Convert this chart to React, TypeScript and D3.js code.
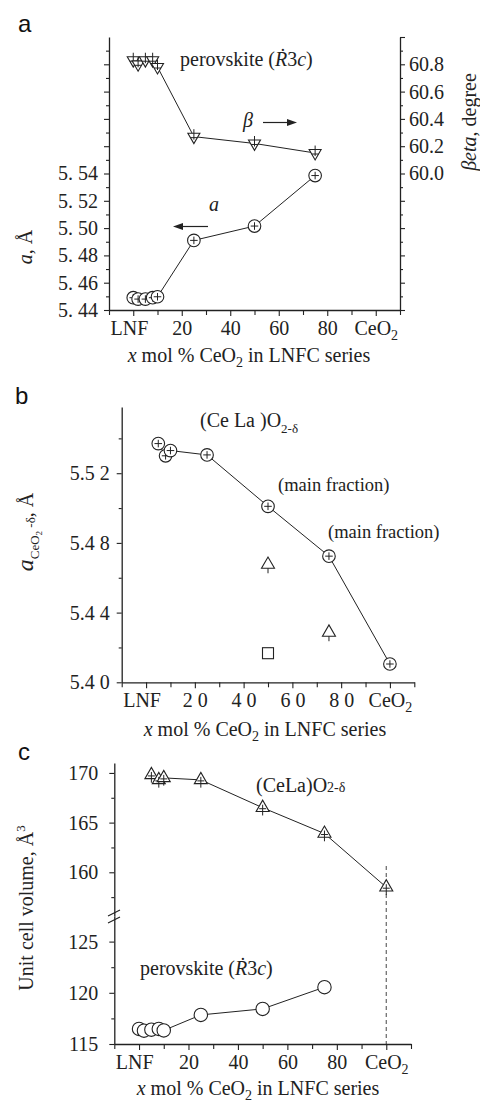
import React, { useEffect, useRef } from 'react'
import * as d3 from 'd3'

// perovskite (R3c) phase
const perovX = [0, 2, 5, 8, 10, 25, 50, 75]
const perovA = [5.449, 5.448, 5.448, 5.449, 5.4497, 5.491, 5.5015, 5.5385]
const perovBeta = [60.83, 60.8, 60.83, 60.83, 60.78, 60.27, 60.22, 60.15]
const perovVolume = [116.47, 116.3, 116.4, 116.47, 116.33, 117.84, 118.43, 120.55]

// (CeLa)O2-d phase
const celaX = [5, 8, 10, 25, 50, 75, 100]
const celaA = [5.537, 5.53, 5.533, 5.5305, 5.501, 5.4724, 5.4105]
const celaVolume = [169.8, 169.3, 169.5, 169.3, 166.5, 163.9, 158.5]
const secondX = [50, 75]
const secondA = [5.4676, 5.4286]
const squareX = [50]
const squareA = [5.4167]

// ticks
const xMajor = [0, 20, 40, 60, 80, 100]
const xMinor = [-10, 10, 30, 50, 70, 90, 110]
const xLabels = ['LNF', '20', '40', '60', '80', 'CeO']
const xLabelsB = ['LNF', '2 0', '4 0', '6 0', '8 0', 'CeO']
const aMajor = [5.44, 5.46, 5.48, 5.5, 5.52, 5.54, 5.56, 5.58, 5.6, 5.62]
const aMinor = [5.45, 5.47, 5.49, 5.51, 5.53, 5.55, 5.57, 5.59, 5.61, 5.63]
const aLabels = ['5. 44', '5. 46', '5. 48', '5. 50', '5. 52', '5. 54']
const betaMajor = [59.0, 59.2, 59.4, 59.6, 59.8, 60.0, 60.2, 60.4, 60.6, 60.8, 61.0]
const betaMinor = [59.1, 59.3, 59.5, 59.7, 59.9, 60.1, 60.3, 60.5, 60.7, 60.9]
const betaLabels = ['60.0', '60.2', '60.4', '60.6', '60.8']
const bMajor = [5.4, 5.44, 5.48, 5.52]
const bMinor = [5.42, 5.46, 5.5, 5.54]
const bLabels = ['5.4 0', '5.4 4', '5.4 8', '5.5 2']
const volUpMajor = [160, 165, 170]
const volUpMinor = [157.5, 162.5, 167.5]
const volLowMajor = [115, 120, 125]
const volLowMinor = [117.5, 122.5]

const SERIF = '"Liberation Serif", "Times New Roman", serif'
const SANS = '"Liberation Sans", Arial, sans-serif'
const INK = '#222'

type Sel = d3.Selection<any, unknown, null, undefined>

function drawAxis(parent: Sel, axis: d3.Axis<number>, transform: string, minor = false) {
  const g = parent.append('g').attr('transform', transform).call(axis as any)
  g.attr('font-family', SERIF).attr('font-size', 20)
  g.select('.domain').attr('stroke', INK).attr('stroke-width', 1.3)
  g.selectAll('.tick line').attr('stroke', INK).attr('stroke-width', 1.1)
  g.selectAll('.tick text').attr('fill', INK)
  if (minor) g.select('.domain').remove()
  return g
}

function xAxis(parent: Sel, x: d3.ScaleLinear<number, number>, y0: number, labels: string[]) {
  const g = drawAxis(
    parent,
    d3.axisBottom<number>(x).tickValues(xMajor).tickSize(6).tickSizeOuter(0).tickPadding(5)
      .tickFormat((_, i) => labels[i]),
    `translate(0,${y0})`
  )
  g.selectAll<SVGTextElement, number>('.tick text').each(function (d) {
    const t = d3.select(this)
    if (d === 0) t.attr('text-anchor', 'start').attr('x', x(-10) - x(0) + 1)
    if (d === 100) t.append('tspan').attr('font-size', 14).attr('dy', 5).text('2')
  })
  drawAxis(parent, d3.axisBottom<number>(x).tickValues(xMinor).tickSize(5).tickFormat(() => ''),
    `translate(0,${y0})`, true)
}

function xTitle(parent: Sel, cx: number, y: number) {
  const t = parent.append('text').attr('x', cx).attr('y', y).attr('text-anchor', 'middle')
    .attr('font-size', 20).attr('fill', INK)
  t.append('tspan').attr('font-style', 'italic').text('x')
  t.append('tspan').text(' mol % CeO')
  t.append('tspan').attr('font-size', 14).attr('dy', 5).text('2')
  t.append('tspan').attr('dy', -5).text(' in LNFC series')
}

function circlePlus(g: Sel, cx: number, cy: number, r: number, plus = true) {
  g.append('circle').attr('cx', cx).attr('cy', cy).attr('r', r)
    .attr('fill', '#fff').attr('stroke', INK).attr('stroke-width', 1.1)
  if (plus) {
    const k = r * 0.6
    g.append('path').attr('d', `M${cx - k},${cy}H${cx + k}M${cx},${cy - k}V${cy + k}`)
      .attr('stroke', INK).attr('stroke-width', 1)
  }
}

function triangle(g: Sel, cx: number, cy: number, s: number, down: boolean, mark: 'plus' | 'tick') {
  const h = s * 0.866
  const dir = down ? -1 : 1
  const baseY = cy + dir * h / 3
  const apexY = cy - dir * (2 * h) / 3
  g.append('path')
    .attr('d', `M${cx - s / 2},${baseY}L${cx + s / 2},${baseY}L${cx},${apexY}Z`)
    .attr('fill', '#fff').attr('stroke', INK).attr('stroke-width', 1.1)
  if (mark === 'plus') {
    g.append('path')
      .attr('d', `M${cx - 3.5},${cy + 1}H${cx + 3.5}M${cx},${baseY + dir * 4}V${cy - dir * 3}`)
      .attr('stroke', INK).attr('stroke-width', 1)
  } else {
    g.append('path').attr('d', `M${cx},${baseY}V${baseY + 5}`)
      .attr('stroke', INK).attr('stroke-width', 1)
  }
}

function label(parent: Sel, txt: string, x: number, y: number, size = 20) {
  return parent.append('text').attr('x', x).attr('y', y).attr('font-size', size)
    .attr('fill', INK).text(txt)
}

function rsc(parent: Sel, x: number, y: number) {
  const t = parent.append('text').attr('x', x).attr('y', y).attr('font-size', 20).attr('fill', INK)
  t.append('tspan').text('perovskite (')
  t.append('tspan').attr('font-style', 'italic').text('Ṙ')
  t.append('tspan').text('3')
  t.append('tspan').attr('font-style', 'italic').text('c')
  t.append('tspan').text(')')
}

function arrow(parent: Sel, x1: number, x2: number, y: number) {
  const d = x2 > x1 ? 1 : -1
  parent.append('line').attr('x1', x1).attr('x2', x2 - d * 8).attr('y1', y).attr('y2', y)
    .attr('stroke', INK).attr('stroke-width', 1.2)
  parent.append('path').attr('d', `M${x2},${y}L${x2 - d * 10},${y - 3.5}L${x2 - d * 10},${y + 3.5}Z`)
    .attr('fill', INK)
}

export default function App(): React.ReactElement {
  const ref = useRef<SVGSVGElement>(null)

  useEffect(() => {
    const svg = d3.select(ref.current) as unknown as Sel
    svg.selectAll('*').remove()
    svg.attr('font-family', SERIF)

    // ---------- panel a ----------
    const xa = d3.scaleLinear().domain([-10, 110]).range([109, 400])
    const ya = d3.scaleLinear().domain([5.44, 5.64]).range([310, 37])
    const yb = d3.scaleLinear().domain([59, 61]).range([310, 37])

    const ga = svg.append('g')
    ga.append('path').datum(perovBeta)
      .attr('d', d3.line<number>().x((_, i) => xa(perovX[i])).y((d) => yb(d)))
      .attr('fill', 'none').attr('stroke', INK).attr('stroke-width', 1)
    ga.append('path').datum(perovA)
      .attr('d', d3.line<number>().x((_, i) => xa(perovX[i])).y((d) => ya(d)))
      .attr('fill', 'none').attr('stroke', INK).attr('stroke-width', 1)
    perovBeta.forEach((d, i) => triangle(ga, xa(perovX[i]), yb(d), 12, true, 'plus'))
    perovA.forEach((d, i) => circlePlus(ga, xa(perovX[i]), ya(d), 6.3))

    xAxis(svg, xa, 310, xLabels)
    drawAxis(svg, d3.axisLeft<number>(ya).tickValues(aMajor).tickSize(5).tickSizeOuter(0).tickPadding(6)
      .tickFormat((_, i) => aLabels[i] ?? ''), 'translate(109,0)')
    drawAxis(svg, d3.axisLeft<number>(ya).tickValues(aMinor).tickSize(3).tickFormat(() => ''),
      'translate(109,0)', true)
    drawAxis(svg, d3.axisRight<number>(yb).tickValues(betaMajor).tickSize(5).tickSizeOuter(0).tickPadding(4)
      .tickFormat((d) => (d >= 60 && d < 61 ? betaLabels[betaLabels.indexOf(d.toFixed(1))] : '')),
      'translate(400,0)')
    drawAxis(svg, d3.axisRight<number>(yb).tickValues(betaMinor).tickSize(3).tickFormat(() => ''),
      'translate(400,0)', true)

    xTitle(svg, 249, 362)
    svg.append('text').attr('transform', 'translate(32,247) rotate(-90)').attr('text-anchor', 'middle')
      .attr('font-size', 20).attr('fill', INK)
      .call((t) => { t.append('tspan').attr('font-style', 'italic').text('a'); t.append('tspan').text(', Å') })
    svg.append('text').attr('transform', 'translate(476,122) rotate(-90)').attr('text-anchor', 'middle')
      .attr('font-size', 20).attr('fill', INK)
      .call((t) => { t.append('tspan').attr('font-style', 'italic').text('βeta'); t.append('tspan').text(', degree') })

    rsc(svg, 180, 66)
    label(svg, 'β', 243, 127).attr('font-style', 'italic')
    arrow(svg, 263, 297, 122.5)
    label(svg, 'a', 209, 211).attr('font-style', 'italic')
    arrow(svg, 208, 173, 226.5)

    // ---------- panel b ----------
    const xb = d3.scaleLinear().domain([-10, 110]).range([121.7, 414.3])
    const yB = d3.scaleLinear().domain([5.4, 5.558]).range([682.3, 407])

    const gb = svg.append('g')
    gb.append('path').datum(celaA)
      .attr('d', d3.line<number>().x((_, i) => xb(celaX[i])).y((d) => yB(d)))
      .attr('fill', 'none').attr('stroke', INK).attr('stroke-width', 1)
    celaA.forEach((d, i) => circlePlus(gb, xb(celaX[i]), yB(d), 6.3))
    secondA.forEach((d, i) => triangle(gb, xb(secondX[i]), yB(d), 13, false, 'tick'))
    squareA.forEach((d, i) =>
      gb.append('rect').attr('x', xb(squareX[i]) - 5.5).attr('y', yB(d) - 5.5)
        .attr('width', 11).attr('height', 11).attr('fill', '#fff').attr('stroke', INK).attr('stroke-width', 1.1))

    xAxis(svg, xb, 682.3, xLabelsB)
    drawAxis(svg, d3.axisLeft<number>(yB).tickValues(bMajor).tickSize(5).tickSizeOuter(0).tickPadding(7)
      .tickFormat((_, i) => bLabels[i]), 'translate(121.7,0)')
    drawAxis(svg, d3.axisLeft<number>(yB).tickValues(bMinor).tickSize(3).tickFormat(() => ''),
      'translate(121.7,0)', true)

    xTitle(svg, 265, 736)
    svg.append('text').attr('transform', 'translate(33,532) rotate(-90)').attr('text-anchor', 'middle')
      .attr('font-size', 20).attr('fill', INK)
      .call((t) => {
        t.append('tspan').attr('font-style', 'italic').attr('font-size', 24).text('a')
        t.append('tspan').attr('font-size', 13).attr('dy', 6).text('CeO')
        t.append('tspan').attr('font-size', 9).attr('dy', 3).text('2')
        t.append('tspan').attr('font-size', 13).attr('dy', -7).text(' -δ')
        t.append('tspan').attr('dy', -2).text(', Å')
      })

    const cl = svg.append('text').attr('x', 200).attr('y', 427).attr('font-size', 20).attr('fill', INK)
    cl.append('tspan').text('(Ce La )O')
    cl.append('tspan').attr('font-size', 13).attr('dy', 6).text('2-δ')
    label(svg, '(main fraction)', 278, 491, 18.5)
    label(svg, '(main fraction)', 328, 538, 18.5)

    // ---------- panel c ----------
    const xc = d3.scaleLinear().domain([-10, 110]).range([114.3, 411])
    const yUp = d3.scaleLinear().domain([155.6, 171]).range([916, 763])
    const yLow = d3.scaleLinear().domain([115, 127.5]).range([1044, 916])

    const gc = svg.append('g')
    gc.append('line').attr('x1', xc(100)).attr('x2', xc(100)).attr('y1', 866).attr('y2', 1044)
      .attr('stroke', '#666').attr('stroke-width', 1.2).attr('stroke-dasharray', '4,3')
    gc.append('path').datum(celaVolume)
      .attr('d', d3.line<number>().x((_, i) => xc(celaX[i])).y((d) => yUp(d)))
      .attr('fill', 'none').attr('stroke', INK).attr('stroke-width', 1)
    gc.append('path').datum(perovVolume)
      .attr('d', d3.line<number>().x((_, i) => xc(perovX[i])).y((d) => yLow(d)))
      .attr('fill', 'none').attr('stroke', INK).attr('stroke-width', 1)
    celaVolume.forEach((d, i) => triangle(gc, xc(celaX[i]), yUp(d), 13, false, 'plus'))
    perovVolume.forEach((d, i) => circlePlus(gc, xc(perovX[i]), yLow(d), 6.7, false))

    xAxis(svg, xc, 1044, xLabels)
    drawAxis(svg, d3.axisLeft<number>(yUp).tickValues(volUpMajor).tickSize(5).tickSizeOuter(0).tickPadding(11),
      'translate(114.3,0)')
    drawAxis(svg, d3.axisLeft<number>(yUp).tickValues(volUpMinor).tickSize(3).tickFormat(() => ''),
      'translate(114.3,0)', true)
    drawAxis(svg, d3.axisLeft<number>(yLow).tickValues(volLowMajor).tickSize(5).tickSizeOuter(0).tickPadding(11),
      'translate(114.3,0)')
    drawAxis(svg, d3.axisLeft<number>(yLow).tickValues(volLowMinor).tickSize(3).tickFormat(() => ''),
      'translate(114.3,0)', true)
    // axis break marks
    ;[913, 920].forEach((yy) =>
      svg.append('line').attr('x1', 108).attr('x2', 120).attr('y1', yy + 3).attr('y2', yy - 3)
        .attr('stroke', INK).attr('stroke-width', 1.1))

    xTitle(svg, 258, 1095)
    svg.append('text').attr('transform', 'translate(33,908) rotate(-90)').attr('text-anchor', 'middle')
      .attr('font-size', 20).attr('fill', INK)
      .call((t) => {
        t.append('tspan').text('Unit cell volume, Å')
        t.append('tspan').attr('font-size', 13).attr('dy', -8).text('3')
      })

    const cc = svg.append('text').attr('x', 256).attr('y', 792).attr('font-size', 20).attr('fill', INK)
    cc.append('tspan').text('(CeLa)O')
    cc.append('tspan').attr('font-size', 14).text('2-δ')
    rsc(svg, 140, 975)

    // all chart text in a Times-like face
    svg.selectAll('text').attr('font-family', SERIF)

    // panel letters
    ;[['a', 18, 32], ['b', 15, 404], ['c', 18, 760]].forEach(([t, x, y]) =>
      svg.append('text').attr('x', x).attr('y', y).attr('font-family', SANS)
        .attr('font-size', 24).attr('fill', '#111').text(t as string))
  }, [])

  return (
    <svg
      ref={ref}
      width={480}
      height={1104}
      style={{ position: 'absolute', left: 0, top: 0, background: '#fff' }}
    />
  )
}
